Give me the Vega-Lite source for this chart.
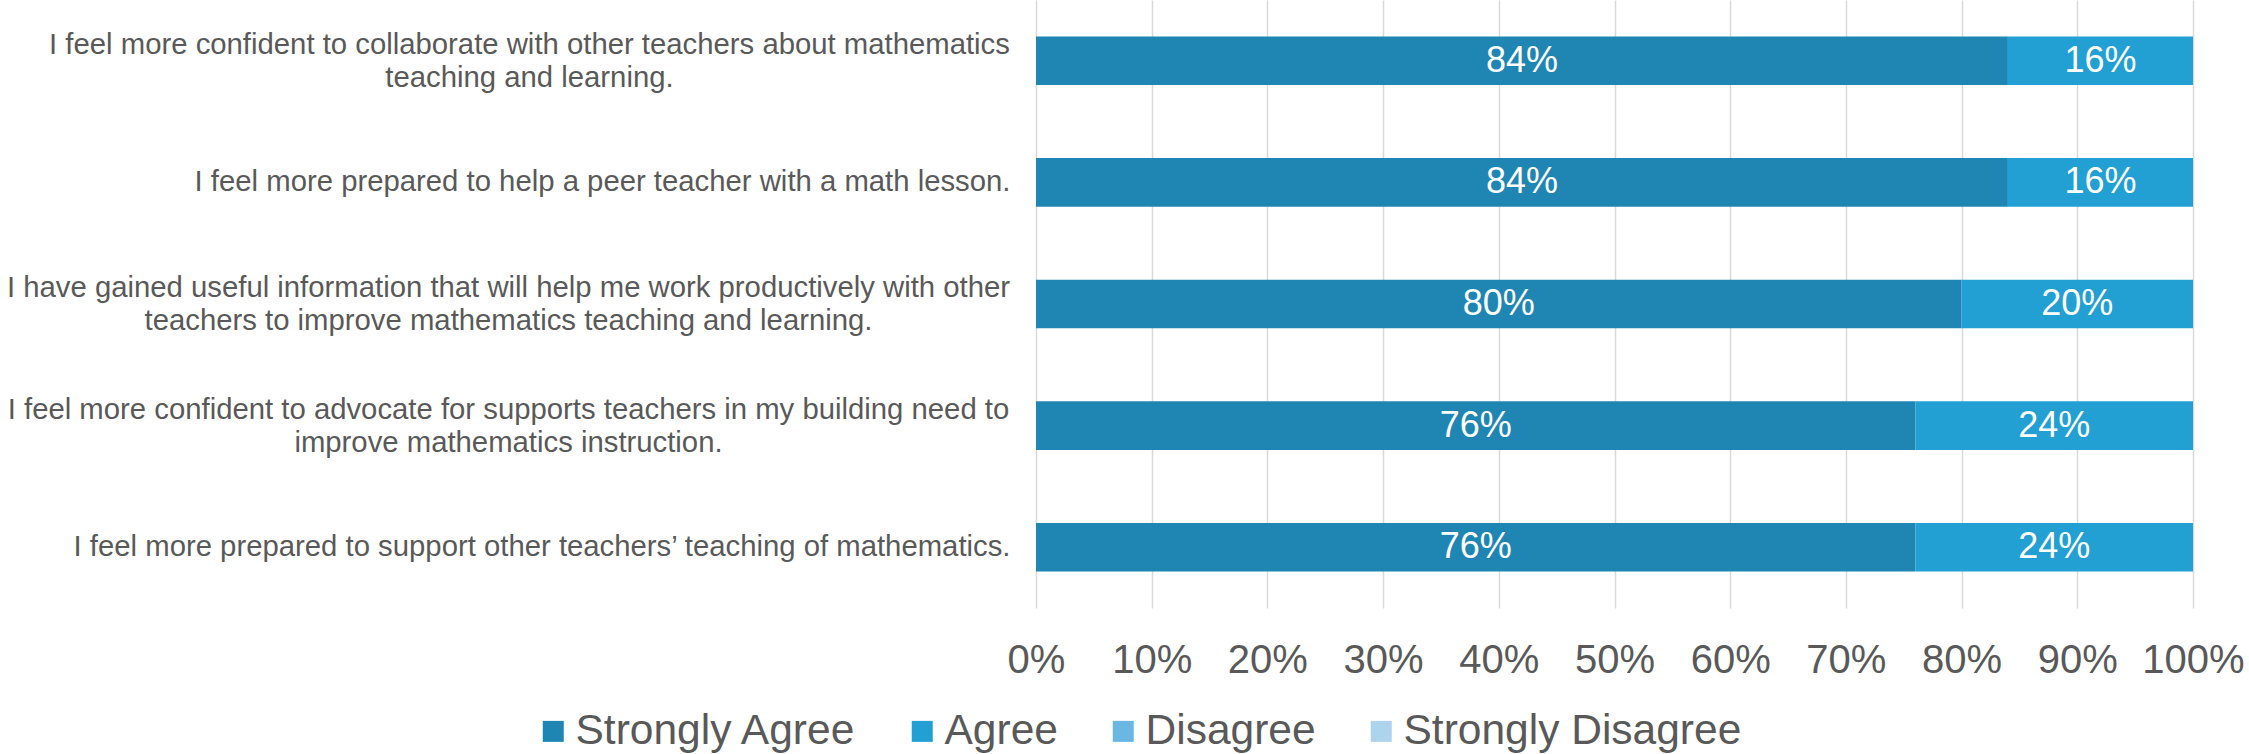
{
  "$schema": "https://vega.github.io/schema/vega-lite/v6.json",
  "autosize": "none",
  "width": 1157,
  "height": 608,
  "padding": {"left": 1036, "top": 0, "right": 56, "bottom": 146},
  "background": "white",
  "config": {"view": {"stroke": null}, "font": "Liberation Sans"},
  "data": {
    "values": [
      {"q": "I feel more confident to collaborate with other teachers about mathematics\nteaching and learning.", "response": "Strongly Agree", "rank": 1, "pct": 0.84},
      {"q": "I feel more confident to collaborate with other teachers about mathematics\nteaching and learning.", "response": "Agree", "rank": 2, "pct": 0.16},
      {"q": "I feel more prepared to help a peer teacher with a math lesson.", "response": "Strongly Agree", "rank": 1, "pct": 0.84},
      {"q": "I feel more prepared to help a peer teacher with a math lesson.", "response": "Agree", "rank": 2, "pct": 0.16},
      {"q": "I have gained useful information that will help me work productively with other\nteachers to improve mathematics teaching and learning.", "response": "Strongly Agree", "rank": 1, "pct": 0.80},
      {"q": "I have gained useful information that will help me work productively with other\nteachers to improve mathematics teaching and learning.", "response": "Agree", "rank": 2, "pct": 0.20},
      {"q": "I feel more confident to advocate for supports teachers in my building need to\nimprove mathematics instruction.", "response": "Strongly Agree", "rank": 1, "pct": 0.76},
      {"q": "I feel more confident to advocate for supports teachers in my building need to\nimprove mathematics instruction.", "response": "Agree", "rank": 2, "pct": 0.24},
      {"q": "I feel more prepared to support other teachers’ teaching of mathematics.", "response": "Strongly Agree", "rank": 1, "pct": 0.76},
      {"q": "I feel more prepared to support other teachers’ teaching of mathematics.", "response": "Agree", "rank": 2, "pct": 0.24}
    ]
  },
  "encoding": {
    "y": {
      "field": "q",
      "type": "nominal",
      "sort": null,
      "title": null,
      "scale": {"paddingInner": 0.6, "paddingOuter": 0.3},
      "axis": {
        "domain": false,
        "ticks": false,
        "tickSize": 0,
        "labelFontSize": 29.3,
        "labelColor": "#595959",
        "labelLimit": 1200,
        "labelLineHeight": 33,
        "labelExpr": "split(datum.label, '\\n')",
        "labelAlign": {"condition": {"test": "indexof(datum.value, '\\n') >= 0", "value": "center"}, "value": "right"},
        "labelOffset": {"condition": {"test": "indexof(datum.value, '\\n') >= 0", "value": -16}, "value": 0},
        "labelPadding": {"condition": [{"test": "indexof(datum.value, 'collaborate') >= 0", "value": 507}, {"test": "indexof(datum.value, '\\n') >= 0", "value": 528}], "value": 26}
      }
    }
  },
  "layer": [
    {
      "mark": {"type": "bar"},
      "encoding": {
        "x": {
          "field": "pct",
          "type": "quantitative",
          "stack": "zero",
          "title": null,
          "scale": {"domain": [0, 1], "nice": false},
          "axis": {"format": ".0%", "values": [0, 0.1, 0.2, 0.3, 0.4, 0.5, 0.6, 0.7, 0.8, 0.9, 1], "domain": false, "ticks": false, "tickSize": 0, "grid": true, "gridColor": "#D9D9D9", "gridWidth": 1.5, "labelFontSize": 40, "labelColor": "#595959", "labelPadding": 32, "labelFlush": false, "labelOverlap": false}
        },
        "color": {
          "field": "response",
          "type": "nominal",
          "scale": {"domain": ["Strongly Agree", "Agree", "Disagree", "Strongly Disagree"], "range": ["#1F86B4", "#229FD3", "#6BB7E3", "#AED3EF"]},
          "legend": {"title": null, "orient": "none", "direction": "horizontal", "legendX": -504, "legendY": 710, "padding": 0, "symbolType": "square", "symbolSize": 441, "symbolStrokeWidth": 0, "labelFontSize": 42.5, "labelColor": "#595959", "labelOffset": 1, "columnPadding": 44, "labelLimit": 600}
        },
        "order": {"field": "rank", "type": "quantitative"}
      }
    },
    {
      "transform": [
        {"stack": "pct", "groupby": ["q"], "sort": [{"field": "rank"}], "as": ["s0", "s1"]},
        {"calculate": "(datum.s0 + datum.s1) / 2", "as": "mid"}
      ],
      "mark": {"type": "text", "color": "white", "fontSize": 36, "align": "center", "baseline": "middle"},
      "encoding": {
        "x": {
          "field": "mid",
          "type": "quantitative",
          "title": null,
          "scale": {"domain": [0, 1], "nice": false},
          "axis": {"format": ".0%", "values": [0, 0.1, 0.2, 0.3, 0.4, 0.5, 0.6, 0.7, 0.8, 0.9, 1], "domain": false, "ticks": false, "tickSize": 0, "grid": true, "gridColor": "#D9D9D9", "gridWidth": 1.5, "labelFontSize": 40, "labelColor": "#595959", "labelPadding": 32, "labelFlush": false, "labelOverlap": false}
        },
        "text": {"field": "pct", "type": "quantitative", "format": ".0%"}
      }
    }
  ]
}
